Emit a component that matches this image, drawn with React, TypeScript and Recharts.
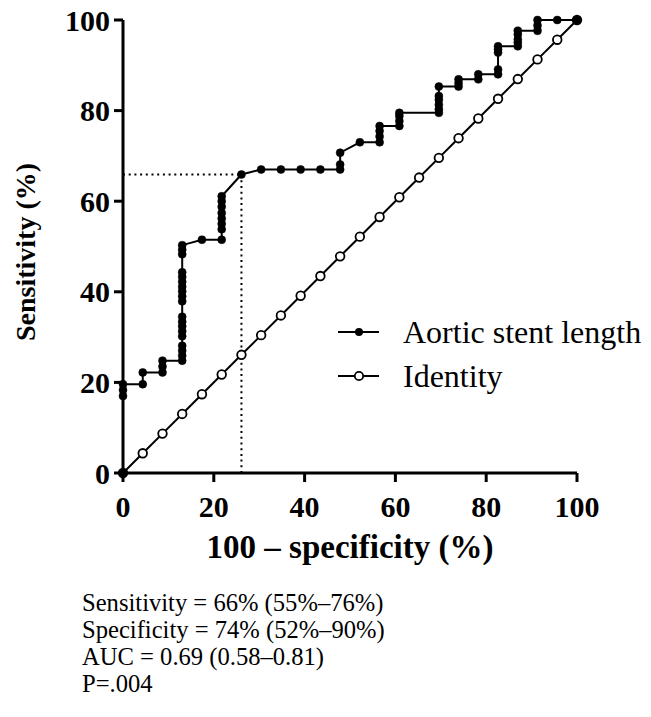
import React from 'react';
import { LineChart, Line, XAxis, YAxis, ReferenceLine, Legend, Label } from 'recharts';

// 100 - specificity levels (23 controls) used by the identity line
const identityFpr = [0, 4.35, 8.7, 13.04, 17.39, 21.74, 26.09, 30.43, 34.78, 39.13, 43.48, 47.83, 52.17, 56.52, 60.87, 65.22, 69.57, 73.91, 78.26, 82.61, 86.96, 91.3, 95.65, 100];
const identitySensitivity = [0, 4.35, 8.7, 13.04, 17.39, 21.74, 26.09, 30.43, 34.78, 39.13, 43.48, 47.83, 52.17, 56.52, 60.87, 65.22, 69.57, 73.91, 78.26, 82.61, 86.96, 91.3, 95.65, 100];

// ROC curve of aortic stent length (100 - specificity, sensitivity)
const rocFpr = [
  0, 0, 0, 0,
  4.35, 4.35,
  8.7, 8.7, 8.7,
  13.04, 13.04, 13.04, 13.04, 13.04, 13.04, 13.04, 13.04, 13.04, 13.04, 13.04, 13.04, 13.04, 13.04, 13.04, 13.04, 13.04, 13.04, 13.04,
  17.39,
  21.74, 21.74, 21.74, 21.74, 21.74, 21.74, 21.74, 21.74,
  26.09,
  30.43, 34.78, 39.13, 43.48,
  47.83, 47.83, 47.83,
  52.17,
  56.52, 56.52, 56.52, 56.52,
  60.87, 60.87, 60.87, 60.87,
  69.57, 69.57, 69.57, 69.57, 69.57, 69.57,
  73.91, 73.91, 73.91,
  78.26, 78.26,
  82.61, 82.61, 82.61, 82.61, 82.61,
  86.96, 86.96, 86.96, 86.96, 86.96,
  91.3, 91.3, 91.3,
  95.65,
  100,
];
const rocSensitivity = [
  0, 17.0, 18.3, 19.6,
  19.6, 22.2,
  22.2, 23.5, 24.8,
  24.8, 25.9, 27.0, 28.1, 30.2, 31.3, 32.4, 33.4, 34.5, 37.9, 39.0, 40.1, 41.1, 42.2, 43.3, 44.3, 48.3, 49.3, 50.3,
  51.5,
  51.5, 53.8, 55.0, 56.2, 57.4, 58.8, 60.0, 61.1,
  65.9,
  67.0, 67.0, 67.0, 67.0,
  67.0, 68.1, 70.7,
  73.0,
  73.0, 74.3, 75.5, 76.6,
  76.6, 77.7, 78.8, 79.5,
  79.5, 80.3, 81.3, 82.4, 83.2, 85.3,
  85.3, 86.1, 86.9,
  86.9, 88.0,
  88.0, 89.1, 92.8, 93.5, 94.2,
  94.2, 95.0, 95.7, 96.8, 97.6,
  97.6, 98.8, 100,
  100,
  100,
];

const cutoffFpr = 26.09;
const cutoffSensitivity = 65.9;

const axisTicks = [0, 20, 40, 60, 80, 100];
const seriesNames = ['Aortic stent length', 'Identity'];
const xAxisTitle = '100 – specificity (%)';
const yAxisTitle = 'Sensitivity (%)';
const statsLines = [
  'Sensitivity = 66% (55%–76%)',
  'Specificity = 74% (52%–90%)',
  'AUC = 0.69 (0.58–0.81)',
  'P=.004',
];

const rocData = rocFpr.map((x, i) => ({ x, y: rocSensitivity[i] }));
const identityData = identityFpr.map((x, i) => ({ x, y: identitySensitivity[i] }));

const SERIF = '"Liberation Serif", "Times New Roman", Times, serif';

const tickStyle = { fontFamily: SERIF, fontWeight: 700, fontSize: 30, fill: '#000' };

const renderLegend = () => (
  <svg width={320} height={95} style={{ display: 'block' }}>
    <line x1={8} y1={27} x2={49} y2={27} stroke="#000" strokeWidth={2} />
    <circle cx={29} cy={27} r={4} fill="#000" />
    <text x={73} y={38} fontFamily={SERIF} fontSize={32} fill="#000">{seriesNames[0]}</text>
    <line x1={8} y1={71} x2={49} y2={71} stroke="#000" strokeWidth={2} />
    <circle cx={29} cy={71} r={4.2} fill="#fff" stroke="#000" strokeWidth={1.8} />
    <text x={73} y={82} fontFamily={SERIF} fontSize={32} fill="#000">{seriesNames[1]}</text>
  </svg>
);

export default function App() {
  return (
    <div style={{ position: 'absolute', left: 0, top: 0, width: 651, height: 717, background: '#fff' }}>
      <LineChart width={651} height={580} margin={{ top: 20, right: 74, bottom: 0, left: 0 }}>
        <XAxis
          type="number"
          dataKey="x"
          domain={[0, 100]}
          ticks={axisTicks}
          interval={0}
          height={107}
          tickSize={9}
          tickMargin={14}
          tick={tickStyle}
          axisLine={{ stroke: '#000', strokeWidth: 3 }}
          tickLine={{ stroke: '#000', strokeWidth: 3 }}
        >
          <Label
            value={xAxisTitle}
            position="insideBottom"
            offset={22}
            style={{ fontFamily: SERIF, fontWeight: 700, fontSize: 33, fill: '#000' }}
          />
        </XAxis>
        <YAxis
          type="number"
          dataKey="y"
          domain={[0, 100]}
          ticks={axisTicks}
          interval={0}
          width={123}
          tickSize={9}
          tickMargin={4}
          tick={tickStyle}
          axisLine={{ stroke: '#000', strokeWidth: 3 }}
          tickLine={{ stroke: '#000', strokeWidth: 3 }}
        >
          <Label
            content={() => (
              <text
                x={35}
                y={252}
                transform="rotate(-90, 35, 252)"
                textAnchor="middle"
                fontFamily={SERIF}
                fontWeight={700}
                fontSize={28}
                fill="#000"
              >
                {yAxisTitle}
              </text>
            )}
          />
        </YAxis>
        <ReferenceLine
          segment={[{ x: 0, y: cutoffSensitivity }, { x: cutoffFpr, y: cutoffSensitivity }]}
          stroke="#000"
          strokeWidth={2}
          strokeDasharray="2 3.7"
        />
        <ReferenceLine
          segment={[{ x: cutoffFpr, y: 0 }, { x: cutoffFpr, y: cutoffSensitivity }]}
          stroke="#000"
          strokeWidth={2}
          strokeDasharray="2 3.7"
        />
        <Line
          data={identityData}
          dataKey="y"
          name={seriesNames[1]}
          type="linear"
          stroke="#000"
          strokeWidth={2}
          dot={{ r: 4.3, fill: '#fff', stroke: '#000', strokeWidth: 1.8 }}
          isAnimationActive={false}
        />
        <Line
          data={rocData}
          dataKey="y"
          name={seriesNames[0]}
          type="linear"
          stroke="#000"
          strokeWidth={2}
          dot={{ r: 4, fill: '#000', stroke: '#000', strokeWidth: 0.5 }}
          isAnimationActive={false}
        />
        <Legend
          layout="horizontal"
          verticalAlign="middle"
          align="center"
          content={renderLegend}
          wrapperStyle={{ position: 'absolute', left: 330, top: 305, width: 320, height: 95 }}
        />
      </LineChart>
      <svg width={651} height={137} style={{ position: 'absolute', left: 0, top: 580 }}>
        {statsLines.map((line, i) => (
          <text key={i} x={82} y={30.5 + i * 27.3} fontFamily={SERIF} fontSize={24.6} fill="#000">
            {line}
          </text>
        ))}
      </svg>
    </div>
  );
}
